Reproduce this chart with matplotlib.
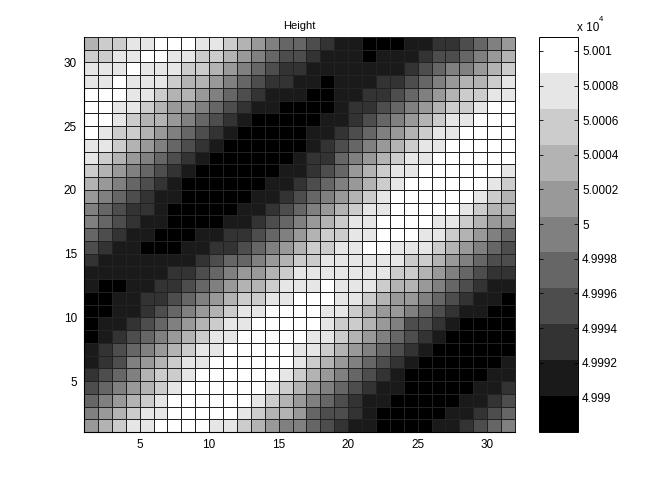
import numpy as np
import matplotlib
matplotlib.use('Agg')
import matplotlib.pyplot as plt

plt.rcParams['font.family'] = ['Liberation Sans', 'DejaVu Sans']

# grey band of each cell (0 black .. 10 white), listed from y=31 down to y=1
bands = [
    [7,8,8,9,9,10,10,10,9,9,8,7,6,5,4,4,3,2,1,1,0,0,0,1,1,2,2,3,4,5,6],
    [8,8,9,9,10,10,9,9,8,8,7,6,5,4,3,3,2,1,1,1,0,1,1,1,2,3,3,4,5,6,7],
    [9,9,9,10,9,9,9,8,8,7,6,5,4,3,2,2,1,1,1,1,1,1,1,2,3,4,5,5,6,7,8],
    [9,9,10,9,9,9,8,7,7,6,5,4,3,2,2,1,1,0,1,1,1,2,2,3,4,5,6,7,7,8,9],
    [10,10,10,9,9,8,7,7,6,5,4,3,2,1,1,1,0,0,1,1,2,2,3,4,5,6,7,8,8,9,9],
    [10,10,9,9,8,7,6,6,5,4,3,2,1,1,0,0,0,0,1,2,2,3,4,5,6,7,8,8,9,10,10],
    [10,10,9,8,7,7,6,5,4,3,2,1,0,0,0,0,0,1,1,2,3,4,5,6,7,8,9,9,10,10,10],
    [10,9,8,8,7,6,5,4,3,2,1,0,0,0,0,0,1,1,2,3,4,5,6,7,8,9,9,10,10,10,10],
    [9,9,8,7,6,5,4,3,2,1,0,0,0,0,0,0,1,2,3,4,5,6,7,8,9,9,10,10,10,10,10],
    [9,8,7,6,5,4,3,2,1,0,0,0,0,0,0,1,2,2,4,5,6,7,8,9,9,10,10,10,10,10,10],
    [8,7,6,5,4,3,2,1,0,0,0,0,0,0,1,1,2,3,4,6,7,8,9,9,10,10,10,10,10,10,9],
    [7,6,5,4,3,2,1,0,0,0,0,0,0,1,1,2,3,4,5,6,7,8,9,10,10,10,10,10,10,9,8],
    [6,5,4,3,2,1,1,0,0,0,0,0,1,1,2,3,4,5,6,7,8,9,10,10,10,10,10,10,9,8,7],
    [5,4,3,2,2,1,0,0,0,0,0,1,1,2,3,4,5,6,7,8,9,9,10,10,10,10,10,9,8,7,7],
    [5,4,3,2,1,1,0,0,0,0,1,1,2,3,4,5,6,7,8,9,9,10,10,10,10,9,9,8,7,6,6],
    [4,3,2,1,1,0,0,0,1,1,2,2,3,4,5,6,7,8,8,9,9,10,10,10,9,9,8,7,6,5,4],
    [3,2,1,1,0,0,0,1,1,2,2,3,4,5,6,7,8,8,9,9,10,10,9,9,9,8,7,6,5,4,3],
    [2,1,1,1,1,1,1,1,2,3,4,4,5,6,7,8,8,9,9,9,9,9,9,8,8,7,6,5,4,3,3],
    [1,1,1,1,1,1,2,2,3,4,5,6,6,7,8,9,9,9,9,9,9,9,8,8,7,6,5,4,3,2,2],
    [1,0,0,1,1,2,2,3,4,5,6,7,7,8,9,9,9,10,9,9,9,8,7,7,6,5,4,3,2,1,1],
    [0,0,1,1,2,2,3,4,5,6,7,8,8,9,9,10,10,10,9,9,8,7,6,6,5,4,3,2,1,1,0],
    [0,0,1,1,2,3,4,5,6,7,8,9,9,10,10,10,10,9,9,8,7,6,6,5,4,3,2,1,1,0,0],
    [0,1,1,2,3,4,5,6,7,8,9,9,10,10,10,10,10,9,8,8,7,6,5,3,3,2,1,0,0,0,0],
    [0,1,2,3,4,5,6,7,8,9,9,10,10,10,10,10,9,9,8,7,6,5,4,3,2,1,0,0,0,0,0],
    [1,2,3,4,5,6,7,8,9,9,10,10,10,10,10,9,9,8,7,6,5,4,3,2,1,0,0,0,0,0,0],
    [1,2,3,5,6,7,8,9,9,10,10,10,10,10,10,9,8,7,6,5,4,3,2,1,0,0,0,0,0,0,1],
    [2,3,4,5,7,8,8,9,10,10,10,10,10,10,9,8,7,6,5,4,3,2,1,0,0,0,0,0,0,1,1],
    [3,4,5,6,7,8,9,10,10,10,10,10,10,9,8,7,6,5,4,3,2,1,1,0,0,0,0,0,1,1,2],
    [4,5,6,7,8,9,10,10,10,10,10,10,9,8,7,6,5,4,3,2,1,1,0,0,0,0,0,1,1,2,3],
    [5,6,7,8,9,9,10,10,10,10,10,9,8,7,7,6,4,3,3,2,1,0,0,0,0,0,1,1,2,3,4],
    [6,7,8,9,9,10,10,10,10,9,9,8,7,6,5,5,4,3,2,1,1,0,0,0,0,1,1,2,3,4,5],
]
height_min = 49988.0
height_max = 50010.8
ticks_main = [5, 10, 15, 20, 25, 30]
ticks_cbar = [49990, 49992, 49994, 49996, 49998, 50000, 50002, 50004, 50006, 50008, 50010]
labels_cbar = ['4.999', '4.9992', '4.9994', '4.9996', '4.9998', '5',
               '5.0002', '5.0004', '5.0006', '5.0008', '5.001']

W, H = 649, 486
fig = plt.figure(figsize=(W / 100, H / 100), dpi=100, facecolor='white')

ax = fig.add_axes([84 / W, 1 - 432 / H, 431 / W, 395 / H])
cax = fig.add_axes([539 / W, 1 - 432 / H, 39 / W, 395 / H])

# band centres turned back into heights
step = (height_max - height_min) / 11
z = height_min + (np.array(bands)[::-1] + 0.5) * step
grid = np.arange(1, 33)

cmap = plt.get_cmap('gray', 11)
mesh = ax.pcolormesh(grid, grid, z, cmap=cmap, vmin=height_min, vmax=height_max,
                     edgecolors='none', antialiased=False)
# cell outlines drawn separately so they stay one pixel wide
ax.vlines(grid, 1, 32, color='#222222', linewidth=0.72, snap=True, clip_on=False)
ax.hlines(grid, 1, 32, color='#222222', linewidth=0.72, snap=True, clip_on=False)
ax.set_xlim(1, 32)
ax.set_ylim(1, 32)
ax.set_xticks(ticks_main)
ax.set_yticks(ticks_main)
ax.tick_params(direction='in', length=0, labelsize=8.5, pad=5, colors='black')
for s in ['top', 'right']:
    ax.spines[s].set_visible(False)
ax.set_title('Height', fontsize=8, pad=6)

cb = fig.colorbar(mesh, cax=cax)
cb.set_ticks(ticks_cbar)
cb.set_ticklabels(labels_cbar)
cb.minorticks_off()
cax.tick_params(direction='in', length=3, width=0.6, left=True, right=True, labelsize=8.5, pad=3)
cb.outline.set_linewidth(0.7)

fig.text(577 / W, 1 - 31 / H, 'x 10', fontsize=8.5, ha='left', va='baseline')
fig.text(601 / W, 1 - 21 / H, '4', fontsize=5.5, ha='center', va='baseline')

fig.savefig('out.png', dpi=100, facecolor='white')
